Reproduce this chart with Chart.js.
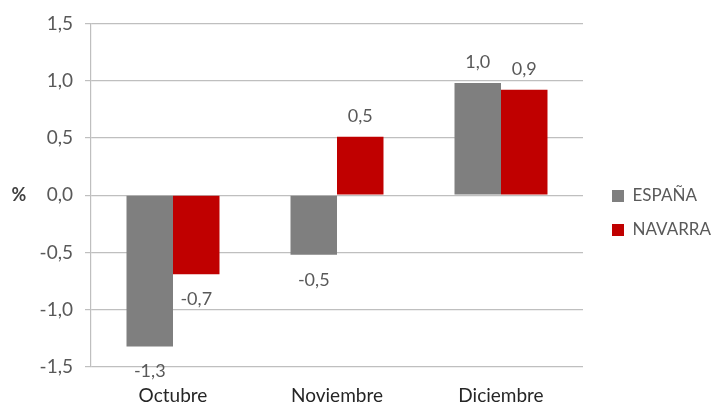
<!DOCTYPE html>
<html>
<head>
<meta charset="utf-8">
<script src="https://cdn.jsdelivr.net/npm/chart.js@4/dist/chart.umd.min.js"></script>
<style>
  html, body { margin: 0; padding: 0; background: #fff; }
  #wrap { width: 713px; height: 403px; }
</style>
</head>
<body>
<div id="wrap"><canvas id="chart" width="713" height="403"></canvas></div>
<script>
const months = ['Octubre', 'Noviembre', 'Diciembre'];
const espana = [-1.32, -0.52, 0.98];
const navarra = [-0.69, 0.51, 0.92];
const seriesNames = ['ESPAÑA', 'NAVARRA'];
const yTicks = [-1.5, -1.0, -0.5, 0.0, 0.5, 1.0, 1.5];

const FONT = 'Lato, "Noto Sans", sans-serif';
const fmt = v => v.toFixed(1).replace('.', ',');

// value labels above / below each bar
const barLabels = {
  id: 'barLabels',
  afterDatasetsDraw(chart) {
    const ctx = chart.ctx;
    ctx.save();
    ctx.font = '18px ' + FONT;
    ctx.fillStyle = '#595959';
    ctx.textAlign = 'center';
    ctx.textBaseline = 'middle';
    chart.data.datasets.forEach((ds, i) => {
      chart.getDatasetMeta(i).data.forEach((el, j) => {
        const v = ds.data[j];
        const y = v >= 0 ? el.y - 21 : el.y + 25;
        ctx.fillText(fmt(v), el.x, y);
      });
    });
    ctx.restore();
  }
};

// horizontal "%" axis title
const pctTitle = {
  id: 'pctTitle',
  afterDraw(chart) {
    const ctx = chart.ctx, a = chart.chartArea;
    ctx.save();
    ctx.font = 'bold 18px ' + FONT;
    ctx.fillStyle = '#404040';
    ctx.textAlign = 'center';
    ctx.textBaseline = 'middle';
    ctx.fillText('%', 19, (a.top + a.bottom) / 2);
    ctx.restore();
  }
};

// fixed legend width, and legend nudged away from the plot a bit
const legendPlace = {
  id: 'legendPlace',
  beforeLayout(chart) {
    const lg = chart.legend;
    if (lg && !lg._wrapped) {
      const fit = lg.fit;
      lg.fit = function () { fit.call(this); this.width = 130; };
      lg._wrapped = true;
    }
  },
  afterLayout(chart) {
    const lg = chart.legend;
    const dx = 12;
    lg.left += dx;
    lg.right += dx;
  }
};

new Chart(document.getElementById('chart'), {
  type: 'bar',
  data: {
    labels: months,
    datasets: [
      { label: seriesNames[0], data: espana, backgroundColor: '#7f7f7f' },
      { label: seriesNames[1], data: navarra, backgroundColor: '#c00000' }
    ]
  },
  options: {
    responsive: false,
    animation: false,
    layout: { padding: { top: 23, right: 0, left: 0, bottom: 0 } },
    datasets: { bar: { categoryPercentage: 0.567, barPercentage: 1.0 } },
    scales: {
      x: {
        grid: { display: false, drawTicks: false },
        border: { display: false },
        ticks: { color: '#262626', font: { family: FONT, size: 19 }, padding: 17 },
        afterFit: s => { s.height = 36; }
      },
      y: {
        min: -1.5,
        max: 1.5,
        afterBuildTicks: s => { s.ticks = yTicks.map(v => ({ value: v })); },
        grid: { color: '#bfbfbf', lineWidth: 1.2, tickLength: 6, drawTicks: true },
        border: { display: true, color: '#bfbfbf', width: 1.2 },
        ticks: {
          color: '#595959',
          font: { family: FONT, size: 19 },
          padding: 12,
          callback: v => fmt(v)
        },
        afterFit: s => { s.width = 91; }
      }
    },
    plugins: {
      tooltip: { enabled: false },
      legend: {
        position: 'right',
        labels: {
          boxWidth: 12,
          boxHeight: 12,
          padding: 17,
          color: '#595959',
          font: { family: FONT, size: 17 }
        }
      }
    }
  },
  plugins: [barLabels, pctTitle, legendPlace]
});
</script>
</body>
</html>
